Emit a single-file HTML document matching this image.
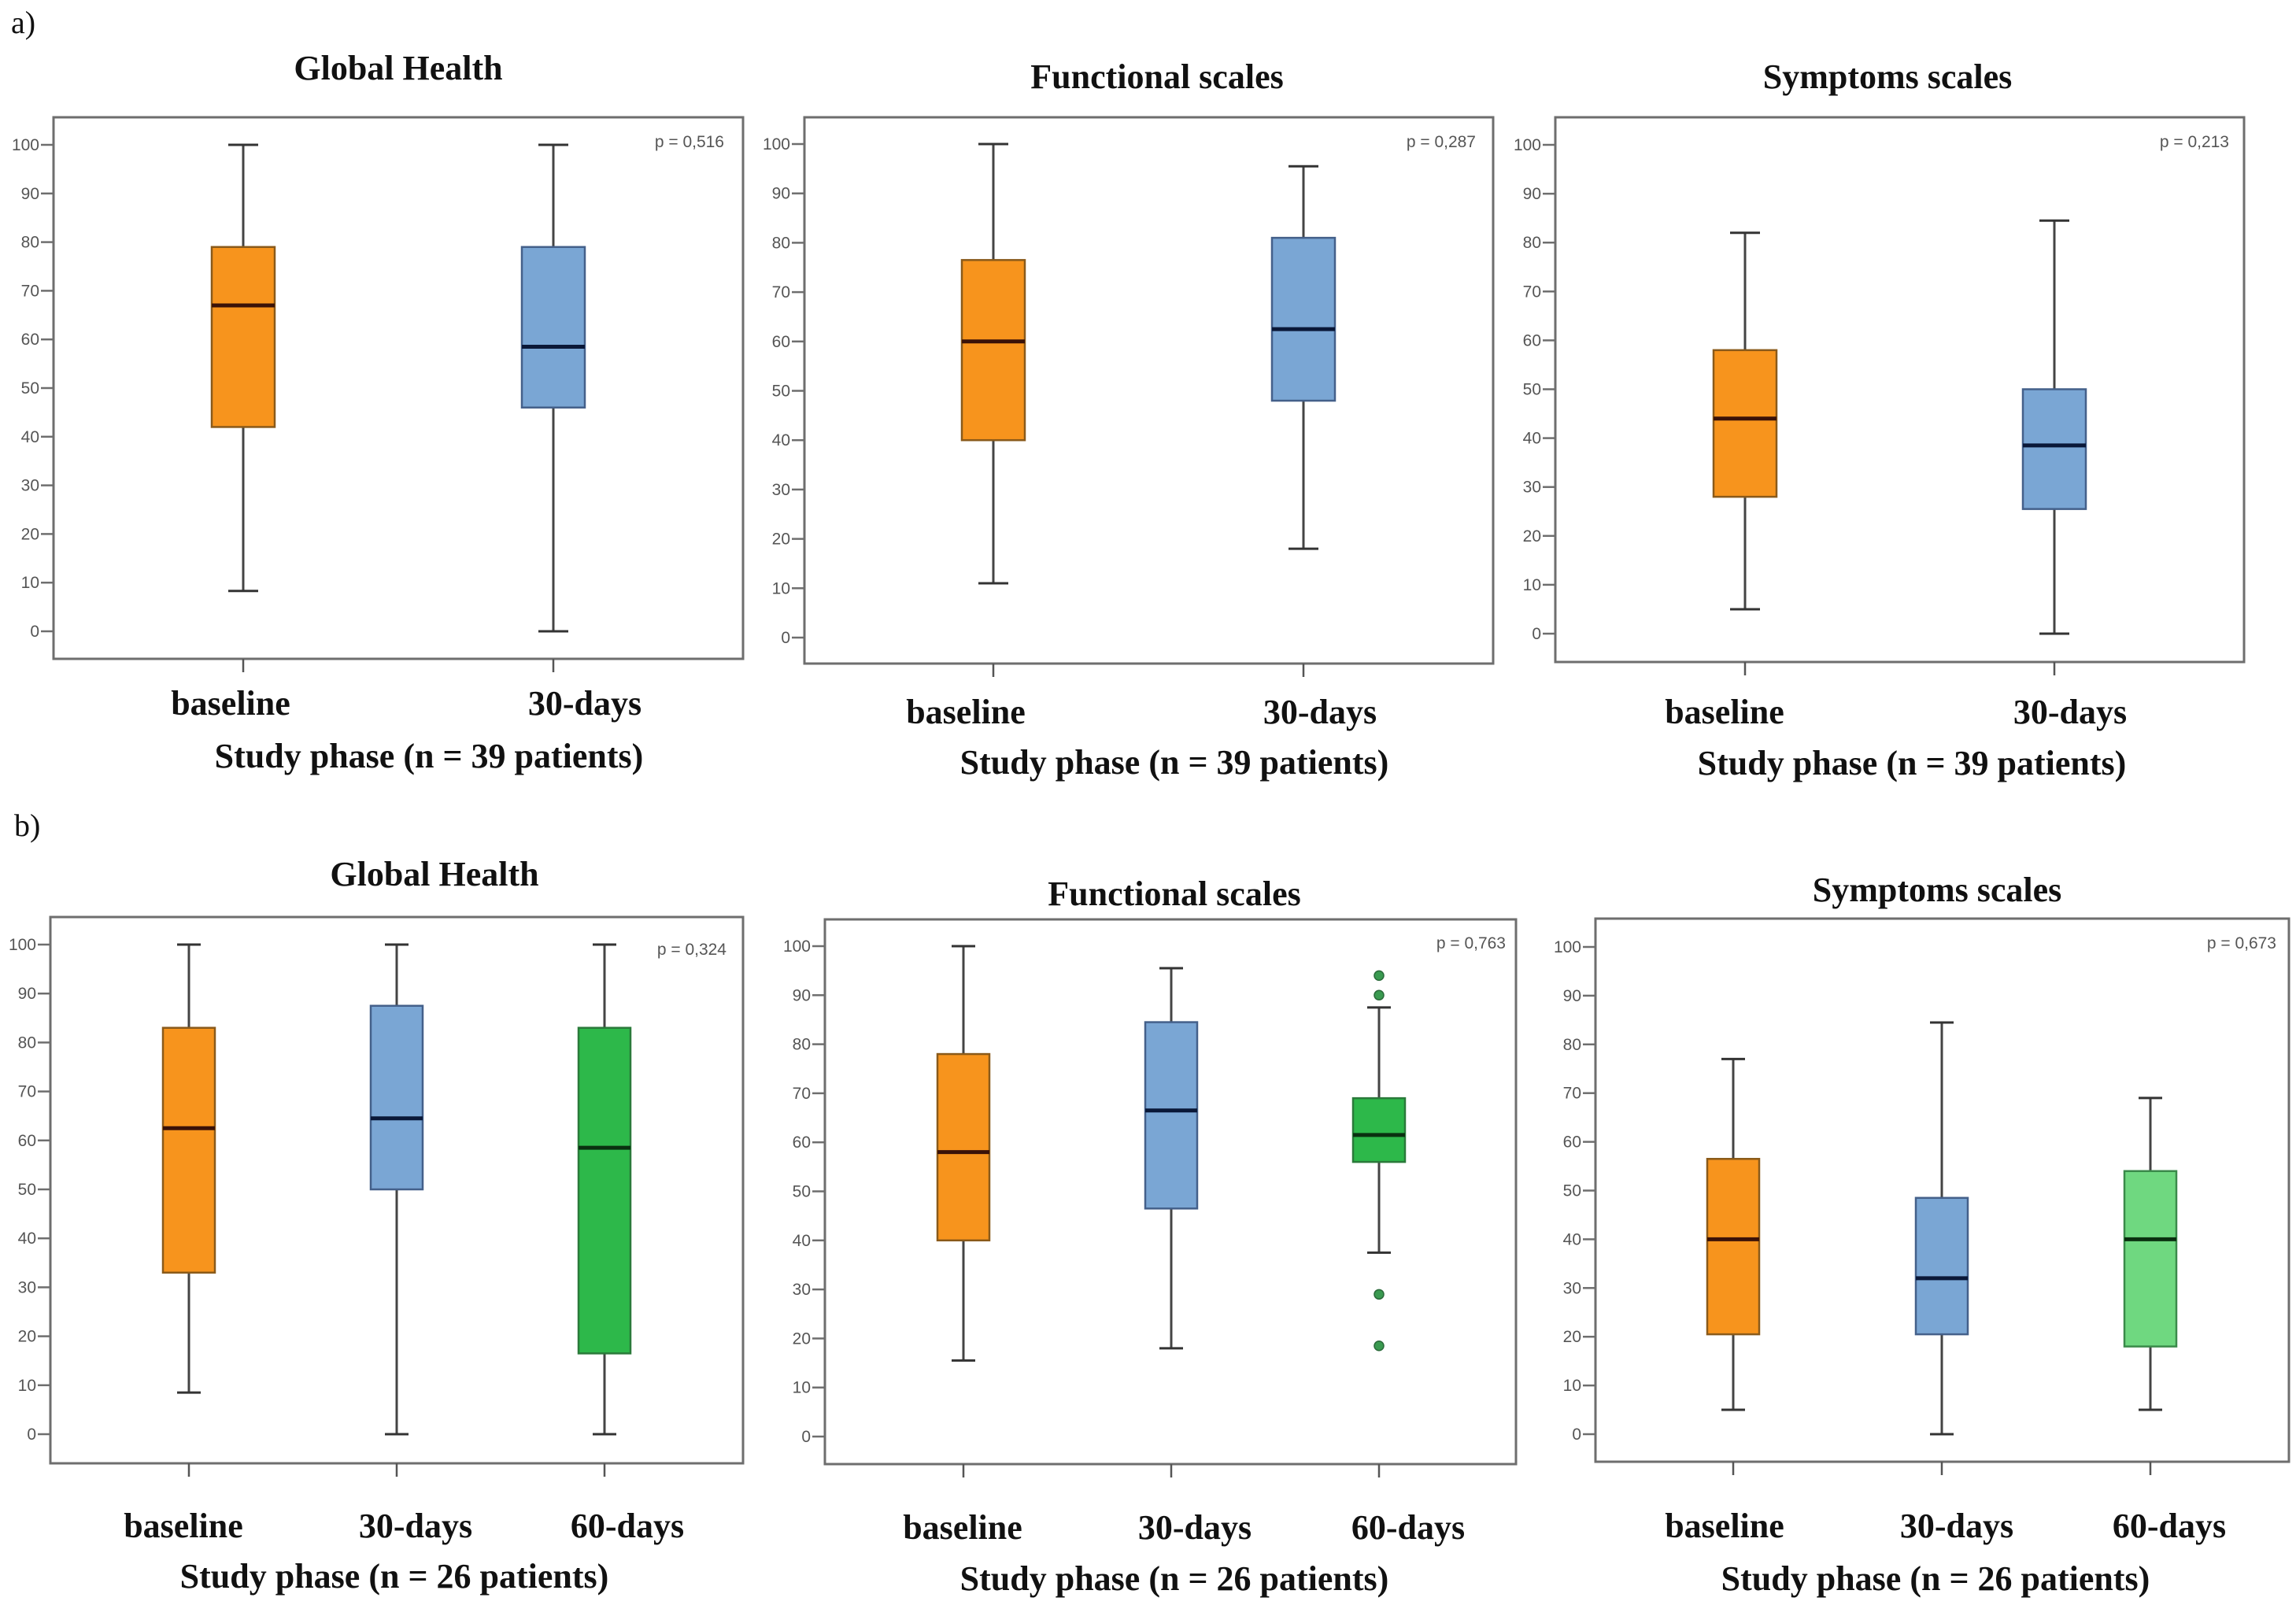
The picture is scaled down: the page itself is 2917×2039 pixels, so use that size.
<!DOCTYPE html>
<html><head><meta charset="utf-8"><style>
html,body{margin:0;padding:0;background:#fff}
svg{display:block}
</style></head><body>
<svg id="fig" width="2917" height="2039" viewBox="0 0 2917 2039" xmlns="http://www.w3.org/2000/svg">
<text x="14" y="42" font-family="Liberation Serif, serif" font-size="40" fill="#111">a)</text>
<text x="18" y="1062" font-family="Liberation Serif, serif" font-size="40" fill="#111">b)</text>
</svg>
<script>
// ---- data (min, q1, median, q3, max) ----
const catsA = ["baseline","30-days"];
const catsB = ["baseline","30-days","60-days"];
const ticks = [0,10,20,30,40,50,60,70,80,90,100];
const a1Global = [[8.3,42,67,79,100],[0,46,58.5,79,100]];
const a2Functional = [[11,40,60,76.5,100],[18,48,62.5,81,95.5]];
const a3Symptoms = [[5,28,44,58,82],[0,25.5,38.5,50,84.5]];
const b1Global = [[8.5,33,62.5,83,100],[0,50,64.5,87.5,100],[0,16.5,58.5,83,100]];
const b2Functional = [[15.5,40,58,78,100],[18,46.5,66.5,84.5,95.5],[37.5,56,61.5,69,87.5]];
const b2Outliers60 = [94,90,29,18.5];
const b3Symptoms = [[5,20.5,40,56.5,77],[0,20.5,32,48.5,84.5],[5,18,40,54,69]];
const pA = ["p = 0,516","p = 0,287","p = 0,213"];
const pB = ["p = 0,324","p = 0,763","p = 0,673"];

const NS="http://www.w3.org/2000/svg";
const svg=document.getElementById('fig');
function mk(tag,attrs,parent){const e=document.createElementNS(NS,tag);for(const k in attrs)e.setAttribute(k,attrs[k]);(parent||svg).appendChild(e);return e;}
const fills={orange:["#f7941d","#8a5a1a","#3a1208"],blue:["#7aa6d4","#44608a","#0a1838"],green:["#2db84a","#2a7a3a","#0a3010"],lgreen:["#6fd880","#3a8a4a","#0a3010"]};

const panels=[
 {name:"a1",title:"Global Health",tx:506,ty:86,L:68,T:149,R:944,B:837,y0:802,y100:184,centers:[309,703],hw:40,cap:19,cats:catsA,data:a1Global,colors:["orange","blue"],lx:[293,743],ly:893,axx:545,axy:960,p:pA[0],px:920,py:180,n:39},
 {name:"a2",title:"Functional scales",tx:1470,ty:97,L:1022,T:149,R:1897,B:843,y0:810,y100:183,centers:[1262,1656],hw:40,cap:19,cats:catsA,data:a2Functional,colors:["orange","blue"],lx:[1227,1677],ly:904,axx:1492,axy:968,p:pA[1],px:1875,py:180,n:39},
 {name:"a3",title:"Symptoms scales",tx:2398,ty:97,L:1976,T:149,R:2851,B:841,y0:805,y100:184,centers:[2217,2610],hw:40,cap:19,cats:catsA,data:a3Symptoms,colors:["orange","blue"],lx:[2191,2630],ly:904,axx:2429,axy:969,p:pA[2],px:2832,py:180,n:39},
 {name:"b1",title:"Global Health",tx:552,ty:1110,L:64,T:1165,R:944,B:1859,y0:1822,y100:1200,centers:[240,504,768],hw:33,cap:15,cats:catsB,data:b1Global,colors:["orange","blue","green"],lx:[233,528,797],ly:1938,axx:501,axy:2002,p:pB[0],px:923,py:1206,n:26},
 {name:"b2",title:"Functional scales",tx:1492,ty:1135,L:1048,T:1168,R:1926,B:1860,y0:1825,y100:1202,centers:[1224,1488,1752],hw:33,cap:15,cats:catsB,data:b2Functional,colors:["orange","blue","green"],lx:[1223,1518,1789],ly:1940,axx:1492,axy:2005,p:pB[1],px:1913,py:1198,n:26,outliers:b2Outliers60},
 {name:"b3",title:"Symptoms scales",tx:2461,ty:1130,L:2027,T:1167,R:2908,B:1857,y0:1822,y100:1203,centers:[2202,2467,2732],hw:33,cap:15,cats:catsB,data:b3Symptoms,colors:["orange","blue","lgreen"],lx:[2191,2486,2756],ly:1938,axx:2459,axy:2005,p:pB[2],px:2892,py:1198,n:26}
];
const serif="Liberation Serif, serif", sans="Liberation Sans, sans-serif";
panels.forEach(P=>{
  const g=mk('g',{});
  
  
  const y=v=>P.y0+(P.y100-P.y0)*v/100;
  const t=mk('text',{x:P.tx,y:P.ty+15,'text-anchor':'middle','font-family':serif,'font-size':44,'font-weight':'bold',fill:'#111'},g);
  t.textContent=P.title;
  
  
  const fr=mk('rect',{x:P.L,y:P.T,width:P.R-P.L,height:P.B-P.T,fill:'none',stroke:'#6e6e6e','stroke-width':3},g);
  
  
  ticks.forEach(v=>{
    mk('line',{x1:P.L-16,x2:P.L,y1:y(v),y2:y(v),stroke:'#6e6e6e','stroke-width':2.5},g);
    const tl=mk('text',{x:P.L-18,y:y(v)+7,'text-anchor':'end','font-family':sans,'font-size':21,fill:'#555'},g);
    tl.textContent=v;
    
    
  });
  const pl=mk('text',{x:P.px,y:P.py+7,'text-anchor':'end','font-family':sans,'font-size':21,fill:'#555'},g);
  pl.textContent=P.p;
  
  
  P.data.forEach((d,i)=>{
    const cx=P.centers[i], c=fills[P.colors[i]];
    mk('line',{x1:cx,x2:cx,y1:P.B,y2:P.B+17,stroke:'#555','stroke-width':2.5},g);
    mk('line',{x1:cx,x2:cx,y1:y(d[0]),y2:y(d[4]),stroke:'#444','stroke-width':3},g);
    mk('line',{x1:cx-P.cap,x2:cx+P.cap,y1:y(d[0]),y2:y(d[0]),stroke:'#333','stroke-width':3},g);
    mk('line',{x1:cx-P.cap,x2:cx+P.cap,y1:y(d[4]),y2:y(d[4]),stroke:'#333','stroke-width':3},g);
    const b=mk('rect',{x:cx-P.hw,y:y(d[3]),width:2*P.hw,height:y(d[1])-y(d[3]),fill:c[0],stroke:c[1],'stroke-width':2.5},g);
    
    
    const m=mk('line',{x1:cx-P.hw,x2:cx+P.hw,y1:y(d[2]),y2:y(d[2]),stroke:c[2],'stroke-width':5},g);
    
    
    const cl=mk('text',{x:P.lx[i],y:P.ly+15,'text-anchor':'middle','font-family':serif,'font-size':44,'font-weight':'bold',fill:'#111'},g);
    cl.textContent=P.cats[i];
    
    
  });
  if(P.outliers){P.outliers.forEach(v=>{
    const o=mk('circle',{cx:P.centers[2],cy:y(v),r:6,fill:'#3a9a50',stroke:'#2a6a3a','stroke-width':1.5},g);
    
    
  });}
  const at=mk('text',{x:P.axx,y:P.axy+15,'text-anchor':'middle','font-family':serif,'font-size':44,'font-weight':'bold',fill:'#111'},g);
  at.textContent='Study phase (n = '+P.n+' patients)';
  
  
});
</script>
</body></html>
